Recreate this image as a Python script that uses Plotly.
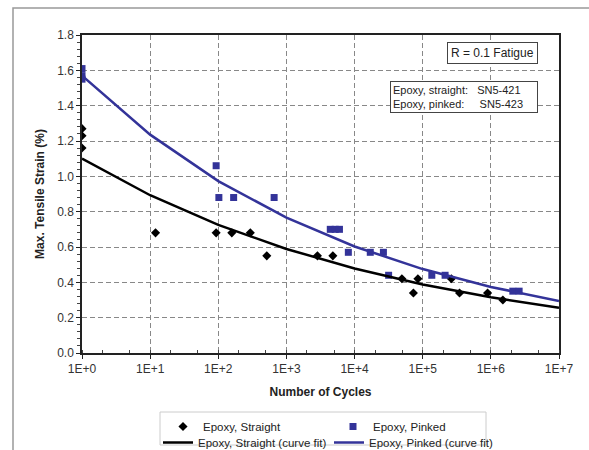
import plotly.graph_objects as go

# ---- data ----
straight_cycles = [1, 1, 1, 12, 93, 158, 295, 515, 2850, 4800, 49500, 73000, 85000,
                   263000, 347000, 895000, 1500000]
straight_strain = [1.27, 1.23, 1.16, 0.68, 0.68, 0.68, 0.68, 0.55, 0.55, 0.55, 0.42, 0.34, 0.42,
                   0.42, 0.34, 0.34, 0.30]

pinked_cycles = [1, 1, 1, 93, 102, 168, 660, 4400, 5200, 6000, 8100, 17000, 26500, 31600,
                 136000, 213000, 2100000, 2600000]
pinked_strain = [1.61, 1.57, 1.55, 1.06, 0.88, 0.88, 0.88, 0.70, 0.70, 0.70, 0.57, 0.57, 0.57, 0.44,
                 0.44, 0.44, 0.35, 0.35]

fit_cycles = [1, 1e1, 1e2, 1e3, 1e4, 1e5, 1e6, 1e7]
straight_fit = [1.10, 0.893, 0.725, 0.589, 0.478, 0.388, 0.315, 0.256]
pinked_fit = [1.57, 1.236, 0.973, 0.766, 0.603, 0.475, 0.374, 0.294]

x_tickvals = [1, 1e1, 1e2, 1e3, 1e4, 1e5, 1e6, 1e7]
x_ticktext = ["1E+0", "1E+1", "1E+2", "1E+3", "1E+4", "1E+5", "1E+6", "1E+7"]
y_tickvals = [0.0, 0.2, 0.4, 0.6, 0.8, 1.0, 1.2, 1.4, 1.6, 1.8]
y_ticktext = ["0.0", "0.2", "0.4", "0.6", "0.8", "1.0", "1.2", "1.4", "1.6", "1.8"]

BLUE = "#333399"
FONT = "Liberation Sans, Arial, sans-serif"

fig = go.Figure()
fig.add_trace(go.Scatter(x=straight_cycles, y=straight_strain, mode="markers",
                         name="Epoxy, Straight", legend="legend",
                         marker=dict(symbol="diamond", size=7, color="black")))
fig.add_trace(go.Scatter(x=pinked_cycles, y=pinked_strain, mode="markers",
                         name="Epoxy, Pinked", legend="legend",
                         marker=dict(symbol="square", size=7, color=BLUE)))
fig.add_trace(go.Scatter(x=fit_cycles, y=straight_fit, mode="lines",
                         name="Epoxy, Straight (curve fit)", legend="legend2",
                         line=dict(color="black", width=2.5)))
fig.add_trace(go.Scatter(x=fit_cycles, y=pinked_fit, mode="lines",
                         name="Epoxy, Pinked (curve fit)", legend="legend2",
                         line=dict(color=BLUE, width=2.5)))

# pixel helpers for paper coordinates (plot area 82..559 x, 35..353 y)
L, R, T, B = 82, 559, 35, 353
def px(x):
    return (x - L) / (R - L)
def py(y):
    return (B - y) / (B - T)

fig.update_layout(
    width=589, height=450,
    margin=dict(l=L, r=589 - R, t=T, b=450 - B, autoexpand=False),
    paper_bgcolor="white", plot_bgcolor="white",
    font=dict(family=FONT, size=12, color="#222"),
    xaxis=dict(type="log", range=[0, 7], tickvals=x_tickvals, ticktext=x_ticktext,
               showgrid=True, gridcolor="#888", griddash="5px,3px", gridwidth=1,
               showline=True, linecolor="#222", linewidth=1.5, mirror=True,
               ticks="outside", ticklen=4, tickcolor="#222",
               minor=dict(ticks="inside", ticklen=3, tickcolor="#444", showgrid=False),
               zeroline=False,
               title=dict(text="<b>Number of Cycles</b>", font=dict(size=12, color="#222"), standoff=12),
               tickfont=dict(size=12, color="#333")),
    yaxis=dict(range=[0, 1.8], tickvals=y_tickvals, ticktext=y_ticktext,
               showgrid=True, gridcolor="#888", griddash="5px,3px", gridwidth=1,
               showline=True, linecolor="#222", linewidth=1.5, mirror=True,
               ticks="outside", ticklen=4, tickcolor="#222",
               minor=dict(ticks="outside", ticklen=3, dtick=0.04, tick0=0, tickcolor="#444", showgrid=False),
               zeroline=False,
               title=dict(text="<b>Max. Tensile Strain (%)</b>", font=dict(size=12, color="#222"), standoff=10),
               tickfont=dict(size=12, color="#333")),
    legend=dict(orientation="h", x=px(163), y=py(412), xanchor="left", yanchor="top",
                font=dict(size=11.5, color="#222"), entrywidth=125, entrywidthmode="pixels",
                bgcolor="rgba(0,0,0,0)", itemwidth=30, tracegroupgap=0),
    legend2=dict(orientation="h", x=px(158), y=py(428), xanchor="left", yanchor="top",
                 font=dict(size=11.5, color="#222"), entrywidth=126, entrywidthmode="pixels",
                 bgcolor="rgba(0,0,0,0)", itemwidth=30, tracegroupgap=0),
    showlegend=True,
)

# outer chart frame and legend frame
fig.add_shape(type="rect", xref="paper", yref="paper",
              x0=px(13), x1=px(600), y0=py(460), y1=py(8),
              line=dict(color="#999", width=1.5), fillcolor="rgba(0,0,0,0)", layer="below")
fig.add_shape(type="rect", xref="paper", yref="paper",
              x0=px(160), x1=px(486), y0=py(445), y1=py(412),
              line=dict(color="#ccc", width=1), fillcolor="rgba(0,0,0,0)")

# text boxes
fig.add_annotation(xref="paper", yref="paper", x=px(538), y=py(42), xanchor="right", yanchor="top",
                   text="R = 0.1 Fatigue", showarrow=False, align="left",
                   font=dict(size=12, color="#222"), bgcolor="white",
                   bordercolor="#444", borderwidth=1, borderpad=3)
fig.add_annotation(xref="paper", yref="paper", x=px(538), y=py(81), xanchor="right", yanchor="top",
                   text="Epoxy, straight:&nbsp;&nbsp;&nbsp;SN5-421<br>Epoxy, pinked:&nbsp;&nbsp;&nbsp;&nbsp;&nbsp;SN5-423",
                   showarrow=False, align="left", width=142,
                   font=dict(size=11, color="#222"), bgcolor="white",
                   bordercolor="#444", borderwidth=1, borderpad=2)

fig.write_html("out.html")
